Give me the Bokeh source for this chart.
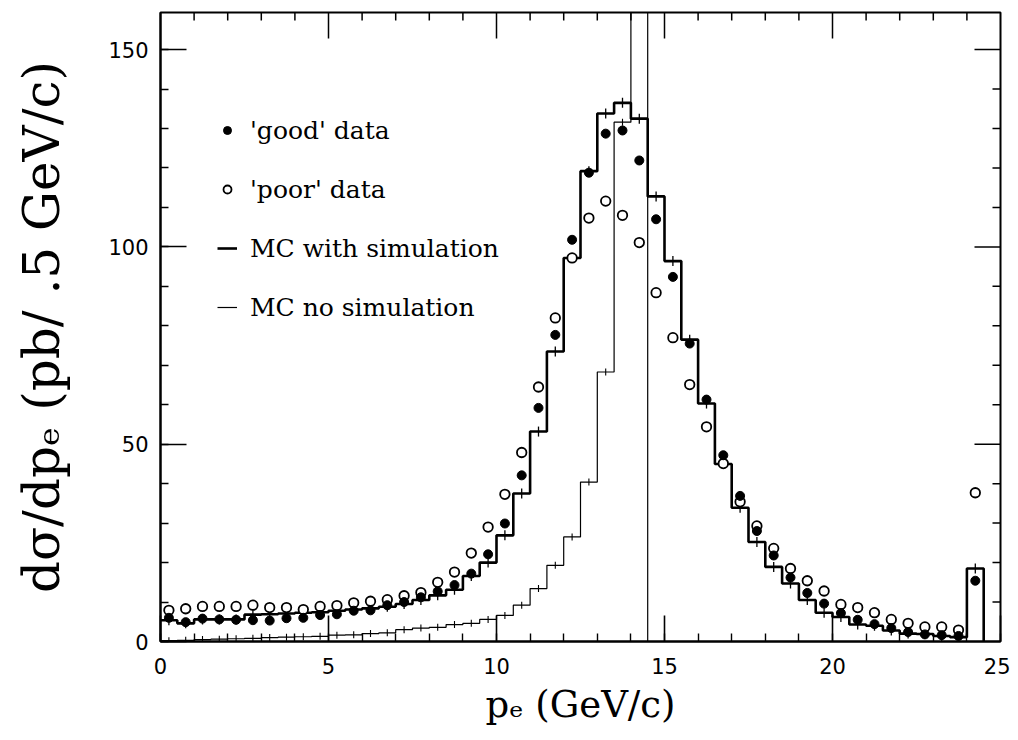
import numpy as np
from bokeh.plotting import figure
from bokeh.models import Range1d, FixedTicker, LinearAxis, Legend, LegendItem
from bokeh.embed import file_html
from bokeh.resources import INLINE

# ---------------- data ----------------
bin_width = 0.5
bin_lo = [i * bin_width for i in range(49)]          # 0.0 ... 24.0
bin_centers = [b + bin_width / 2 for b in bin_lo]

mc_sim = [5.4, 4.6, 5.6, 5.6, 5.6, 6.8, 6.9, 7.1, 7.3, 7.4,
          7.8, 8.1, 8.4, 8.8, 9.5, 10.5, 11.7, 13.1, 16.6, 20.0,
          26.9, 37.5, 53.2, 73.5, 97.2, 119.2, 133.8, 136.5, 132.5, 112.8,
          96.4, 76.5, 60.3, 45.0, 33.9, 25.2, 18.9, 14.7, 10.5, 7.3,
          6.2, 4.3, 4.0, 2.8, 2.0, 1.9, 1.4, 1.1, 18.5]

mc_nosim = [0.2, 0.3, 0.5, 0.6, 0.7, 0.8, 1.0, 1.1, 1.2, 1.3,
            1.6, 1.7, 2.0, 2.2, 3.0, 3.4, 3.6, 4.3, 4.6, 5.6,
            6.6, 9.2, 13.4, 19.3, 26.5, 40.4, 68.3, 131.6, 1150.0, 0.0,
            0.0, 0.0, 0.0, 0.0, 0.0, 0.0, 0.0, 0.0, 0.0, 0.0,
            0.0, 0.0, 0.0, 0.0, 0.0, 0.0, 0.0, 0.0, 0.0]

good = [6.0, 4.9, 5.8, 5.6, 5.5, 5.4, 5.3, 5.9, 6.0, 6.7,
        6.9, 7.8, 7.9, 9.2, 10.0, 11.2, 12.7, 14.3, 17.2, 22.1,
        29.9, 42.1, 59.2, 77.7, 101.8, 118.8, 128.7, 129.5, 121.9, 107.0,
        92.4, 75.5, 61.3, 47.2, 36.9, 28.0, 21.8, 16.2, 12.3, 9.6,
        7.2, 5.5, 4.4, 3.4, 2.4, 1.8, 1.6, 1.4, 15.4]

poor = [7.9, 8.3, 8.9, 8.9, 8.9, 9.2, 8.6, 8.6, 8.1, 8.9,
        9.1, 9.8, 10.2, 10.6, 11.6, 12.4, 15.0, 17.6, 22.4, 29.0,
        37.3, 47.9, 64.5, 82.0, 97.2, 107.3, 111.6, 108.0, 101.1, 88.4,
        77.0, 65.1, 54.4, 45.1, 35.4, 29.3, 23.6, 18.5, 15.4, 12.8,
        9.4, 8.6, 7.3, 5.6, 4.6, 3.7, 3.7, 2.9, 37.7]

x_major = [0, 5, 10, 15, 20, 25]
x_minor = list(range(0, 26))
y_major = [0, 50, 100, 150]
y_minor = list(range(0, 160, 10))

x_label = "pₑ (GeV/c)"
y_label = "dσ/dpₑ (pb/ .5 GeV/c)"
legend_labels = ["'good' data", "'poor' data", "MC with simulation", "MC no simulation"]

# ---------------- figure ----------------
X0, X1, Y0, Y1 = 0, 25, 0, 159.4
FW, FH = 840, 629
SERIF = "DejaVu Serif"
p = figure(frame_width=FW, frame_height=FH,
           x_range=Range1d(X0, X1), y_range=Range1d(Y0, Y1),
           output_backend="svg", toolbar_location=None,
           x_axis_location=None, y_axis_location=None,
           min_border_left=160, min_border_right=10,
           min_border_top=12, min_border_bottom=95,
           background_fill_color="white", border_fill_color="white")
p.grid.visible = False
p.outline_line_color = "black"
p.outline_line_width = 2


def make_axis(ticks, minor):
    ax = LinearAxis(ticker=FixedTicker(ticks=ticks, minor_ticks=minor))
    ax.axis_line_width = 2
    ax.axis_line_color = "black"
    ax.major_tick_in = 26
    ax.major_tick_out = 0
    ax.minor_tick_in = 8
    ax.minor_tick_out = 0
    ax.major_tick_line_width = 1.6
    ax.minor_tick_line_width = 1.4
    ax.major_tick_line_color = "black"
    ax.minor_tick_line_color = "black"
    ax.major_label_text_font = "DejaVu Sans"
    ax.major_label_text_font_size = "21px"
    ax.major_label_text_color = "black"
    ax.axis_label_text_font = SERIF
    ax.axis_label_text_font_style = "normal"
    ax.axis_label_text_color = "black"
    return ax


bottom = make_axis(x_major, x_minor)
bottom.major_label_standoff = 16
bottom.axis_label = x_label
bottom.axis_label_text_font_size = "37px"
bottom.axis_label_standoff = 6
left = make_axis(y_major, y_minor)
left.major_label_standoff = 12
left.axis_label = y_label
left.axis_label_text_font_size = "50px"
left.axis_label_standoff = 34
p.add_layout(bottom, "below")
p.add_layout(left, "left")

# tick marks on top and right frame edges (mirrors of the axes)
px_x = (X1 - X0) / FW
px_y = (Y1 - Y0) / FH
tx = [t for t in x_minor if 0 < t < 25]
tlen_x = [26 * px_y if t in x_major else 8 * px_y for t in tx]
p.segment(x0=tx, y0=[Y1] * len(tx), x1=tx, y1=[Y1 - l for l in tlen_x],
          line_color="black", line_width=1.5)
ty = [t for t in y_minor if 0 < t < Y1]
tlen_y = [26 * px_x if t in y_major else 8 * px_x for t in ty]
p.segment(x0=[X1] * len(ty), y0=ty, x1=[X1 - l for l in tlen_y], y1=ty,
          line_color="black", line_width=1.5)

# histograms (step outlines)
edges = bin_lo + [bin_lo[-1] + bin_width]
r_sim = p.step(edges, mc_sim + [0.0], mode="after", line_color="black", line_width=2.6)
r_nosim = p.step(edges, mc_nosim + [0.0], mode="after", line_color="black", line_width=1.2)

# small error ticks at bin centres
p.scatter(bin_centers, mc_sim, marker="dash", angle=np.pi / 2, size=10,
          line_color="black", line_width=1.3)
ns_x = [c for c, v in zip(bin_centers, mc_nosim) if v > 0]
ns_y = [v for v in mc_nosim if v > 0]
p.scatter(ns_x, ns_y, marker="dash", angle=np.pi / 2, size=7,
          line_color="black", line_width=1.1)

# data points
r_poor = p.scatter(bin_centers, poor, marker="circle", size=9.5,
                   fill_color="white", line_color="black", line_width=1.8)
r_good = p.scatter(bin_centers, good, marker="circle", size=9,
                   fill_color="black", line_color="black", line_width=1)

legend = Legend(items=[LegendItem(label=legend_labels[0], renderers=[r_good]),
                       LegendItem(label=legend_labels[1], renderers=[r_poor]),
                       LegendItem(label=legend_labels[2], renderers=[r_sim]),
                       LegendItem(label=legend_labels[3], renderers=[r_nosim])],
                location=(57, 319), orientation="vertical",
                padding=0, margin=0, spacing=29,
                label_height=30, glyph_height=30, glyph_width=20,
                label_standoff=13,
                label_text_font=SERIF, label_text_font_size="25px",
                label_text_color="black",
                background_fill_alpha=0, border_line_color=None)
p.add_layout(legend)

open("out.html", "w").write(file_html(p, INLINE))
